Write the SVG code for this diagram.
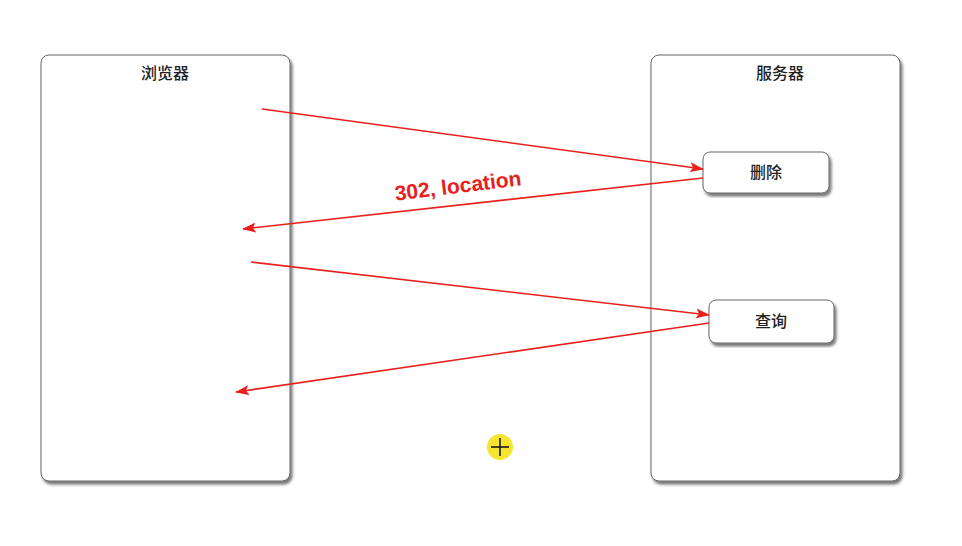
<svg xmlns="http://www.w3.org/2000/svg" width="962" height="546" viewBox="0 0 962 546">
<defs>
<filter id="sh" x="-10%" y="-10%" width="120%" height="120%">
<feDropShadow dx="2" dy="3" stdDeviation="1.5" flood-color="#000" flood-opacity="0.55"/>
</filter>
<marker id="ah" markerWidth="14" markerHeight="10" refX="13" refY="5" orient="auto" markerUnits="userSpaceOnUse">
<path d="M0,0 L14,5 L0,10 L3,5 Z" fill="#e8201c"/>
</marker>
</defs>
<style>
.box{fill:#fff;stroke:#666;stroke-width:1;filter:url(#sh)}
.t{font-family:"Noto Sans CJK SC","Liberation Sans",sans-serif;font-size:16px;font-weight:500;fill:#222;text-anchor:middle}
.c{stroke:#e8201c;stroke-width:1.6;fill:none;marker-end:url(#ah)}
</style>
<rect width="962" height="546" fill="#fff"/>
<g id="browser">
<rect class="box" x="41" y="55" width="249" height="426" rx="8"/>
<text class="t" x="165" y="79">浏览器</text>
</g>
<g id="server">
<rect class="box" x="651" y="55" width="249" height="426" rx="8"/>
<text class="t" x="780" y="79">服务器</text>
</g>
<g id="delete">
<rect class="box" x="703" y="152" width="126" height="41" rx="7"/>
<text class="t" x="766" y="178">删除</text>
</g>
<g id="query">
<rect class="box" x="709" y="300" width="125" height="43" rx="7"/>
<text class="t" x="771" y="327">查询</text>
</g>
<g id="connectors">
<line class="c" x1="262" y1="109" x2="703" y2="169"/>
<line class="c" x1="703" y1="178" x2="243" y2="229"/>
<line class="c" x1="251" y1="262" x2="709" y2="315"/>
<line class="c" x1="709" y1="323" x2="236" y2="392"/>
<text x="458" y="193" transform="rotate(-7 458 186)" font-family="Liberation Sans,sans-serif" font-weight="bold" font-size="21" fill="#e8201c" stroke="#fff" stroke-width="3" paint-order="stroke" text-anchor="middle">302, location</text>
</g>
<g id="cursor">
<circle cx="500" cy="447" r="13" fill="#f5e21a" opacity="0.9"/>
<path d="M491,447 H509 M500,438 V456" stroke="#111" stroke-width="1.5"/>
</g>
</svg>
